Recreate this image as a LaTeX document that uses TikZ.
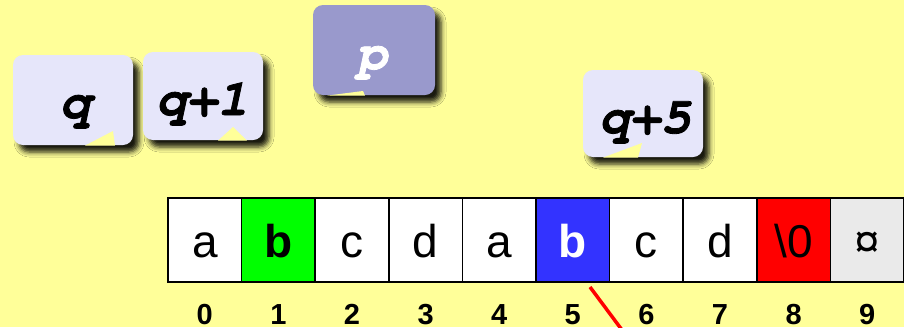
\documentclass[tikz,border=0pt]{standalone}
\usepackage{fontspec}
\setmainfont{Liberation Sans}
\newfontfamily\tagfont{TeX Gyre Cursor}
\usetikzlibrary{shadows.blur}

\definecolor{bgyellow}{HTML}{FFFF99}
\definecolor{tagfill}{HTML}{E6E6FA}
\definecolor{tagdark}{HTML}{9999CC}
\definecolor{cellgreen}{HTML}{00FF00}
\definecolor{cellblue}{HTML}{3333FF}
\definecolor{cellred}{HTML}{FF0000}
\definecolor{cellgray}{HTML}{EAEAEA}

\tikzset{
  tagbox/.style={fill=tagfill, rounded corners=10pt,
    blur shadow={shadow xshift=6pt, shadow yshift=-7pt,
                 shadow blur radius=5pt, shadow opacity=90}},
  notch/.style={fill=bgyellow},
  tagtext/.style={anchor=base, inner sep=0pt,
    font=\tagfont\bfseries\itshape\addfontfeature{FakeBold=1.6}\fontsize{51}{55}\selectfont},
  cell/.style={draw=black, line width=1.6pt, fill=white,
    minimum width=73.6pt, minimum height=84pt, inner sep=0pt,
    text height=34pt, text depth=0pt,
    font=\fontsize{46}{50}\selectfont},
  idx/.style={anchor=base, inner sep=0pt,
    font=\bfseries\fontsize{29}{32}\selectfont},
}

\begin{document}
\begin{tikzpicture}[x=1pt, y=-1pt]
  \useasboundingbox (0,0) rectangle (904,327);
  \fill[bgyellow] (0,0) rectangle (904,327);
  \clip (0,0) rectangle (904,327);

  % pointer labels
  \path[tagbox] (13,55) rectangle (133,145);
  \fill[notch] (85,145.6) -- (113,131) -- (115,145.6) -- cycle;
  \node[tagtext] (tq) at (75,118) {q};

  \path[tagbox] (143,52) rectangle (263,140);
  \fill[notch] (218,140.6) -- (233,127) -- (247,140.6) -- cycle;
  \node[tagtext] (tq1) at (202,115) {q+1};

  \path[tagbox, fill=tagdark] (313,5) rectangle (435,95);
  \fill[notch] (327,95.6) -- (363,91) -- (365,95.6) -- cycle;
  \node[tagtext, text=white] (tp) at (372,69) {p};

  \path[tagbox] (583,70) rectangle (703,157);
  \fill[notch] (603,157.6) -- (642,143) -- (638,157.6) -- cycle;
  \node[tagtext] (tq5) at (645,133) {q+5};

  % character cells
  \node[cell] (c0) at (204.8,240) {a};
  \node[cell, fill=cellgreen, font=\bfseries\fontsize{46}{50}\selectfont] (c1) at (278.4,240) {b};
  \node[cell] (c2) at (352.0,240) {c};
  \node[cell] (c3) at (425.6,240) {d};
  \node[cell] (c4) at (499.2,240) {a};
  \node[cell, fill=cellblue, text=white, font=\bfseries\fontsize{46}{50}\selectfont] (c5) at (572.8,240) {b};
  \node[cell] (c6) at (646.4,240) {c};
  \node[cell] (c7) at (720.0,240) {d};
  \node[cell, fill=cellred] (c8) at (793.6,240) {\textbackslash 0};
  \node[cell, fill=cellgray] (c9) at (867.2,240) {¤};

  % indices
  \foreach \i in {0,...,9}
    \node[idx] (n\i) at (204.8+73.6*\i,324) {\i};

  % red stroke
  \coordinate (r1) at (590,287);
  \coordinate (r2) at (622,330);
  \draw[cellred, line width=3.5pt] (r1) -- (r2);
\end{tikzpicture}
\end{document}
